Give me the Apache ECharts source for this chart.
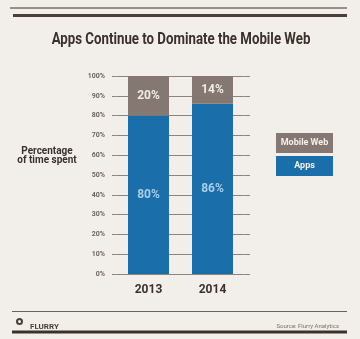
<!DOCTYPE html>
<html><head><meta charset="utf-8">
<script src="https://cdn.jsdelivr.net/npm/echarts@6/dist/echarts.min.js"></script>
<style>html,body{margin:0;padding:0;background:#f2efeb;}#c{width:360px;height:339px;}</style>
</head><body><div id="c"></div>
<script>
var categories = ['2013', '2014'];
var apps = [80, 86];
var mobileWeb = [20, 14];
var yTicks = [0, 10, 20, 30, 40, 50, 60, 70, 80, 90, 100];

var F = 'Roboto, sans-serif';
var chart = echarts.init(document.getElementById('c'));
chart.setOption({
  backgroundColor: '#f2efeb',
  animation: false,
  title: [
    {text: 'FLURRY', left: 25, top: 318,
     textStyle: {fontFamily: F, fontWeight: 'bold', fontSize: 8, color: '#4a403a'}},
    {text: 'Source: Flurry Analytics', right: 16, top: 318,
     textStyle: {fontFamily: F, fontWeight: 'normal', fontSize: 6, color: '#7a716b'}}
  ],
  graphic: [
    {type: 'text', x: 181, y: 31, scaleX: 0.78,
     style: {text: 'Apps Continue to Dominate the Mobile Web', align: 'center', verticalAlign: 'top',
             font: 'bold 17px Roboto, sans-serif', fill: '#3b302b'}},
    {type: 'text', x: 47, y: 147,
     style: {text: 'Percentage\nof time spent', align: 'center', verticalAlign: 'top', lineHeight: 9,
             font: 'bold 10px Roboto, sans-serif', fill: '#3b302b'}},
    {type: 'line', shape: {x1: 10, y1: 8, x2: 347, y2: 8}, style: {stroke: '#3b302b', lineWidth: 1}},
    {type: 'line', shape: {x1: 13, y1: 15.5, x2: 347, y2: 15.5}, style: {stroke: '#4a3f39', lineWidth: 3}},
    {type: 'line', shape: {x1: 12, y1: 311.5, x2: 347, y2: 311.5}, style: {stroke: '#6b615b', lineWidth: 1}},
    {type: 'line', shape: {x1: 12, y1: 332, x2: 347, y2: 332}, style: {stroke: '#3b302b', lineWidth: 3}},
    {type: 'circle', shape: {cx: 19.5, cy: 321.5, r: 3.5}, style: {fill: '#4a403a'}},
    {type: 'circle', shape: {cx: 19.5, cy: 321.5, r: 1.5}, style: {fill: '#f2efeb'}}
  ],
  legend: {
    orient: 'vertical', left: 266, top: 128, itemGap: 3, itemWidth: 0, itemHeight: 0,
    selectedMode: false,
    data: ['Mobile Web', 'Apps'],
    formatter: function (n) { return n === 'Apps' ? '{ap|' + n + '}' : '{mw|' + n + '}'; },
    textStyle: {
      rich: {
        mw: {backgroundColor: '#857872', color: '#f4efea', width: 57, height: 20, align: 'center',
             fontFamily: F, fontWeight: 'bold', fontSize: 9},
        ap: {backgroundColor: '#1a6eaa', color: '#f4efea', width: 57, height: 20, align: 'center',
             fontFamily: F, fontWeight: 'bold', fontSize: 9}
      }
    }
  },
  grid: {left: 116.5, right: 115.5, top: 76, bottom: 65},
  xAxis: {
    type: 'category', data: categories,
    axisLine: {show: false}, axisTick: {show: false},
    axisLabel: {margin: 10, fontFamily: F, fontWeight: 'bold', fontSize: 12, color: '#3b302b'}
  },
  yAxis: [
    {type: 'value', min: 0, max: 100, interval: 10,
     axisLine: {show: false},
     axisTick: {show: true, length: 4.5, lineStyle: {color: '#8c8480'}},
     splitLine: {lineStyle: {color: '#8c8480', width: 1}},
     axisLabel: {margin: 11.5, fontFamily: F, fontWeight: 'bold', fontSize: 7, color: '#6e635c',
       formatter: function (v) { return yTicks.indexOf(v) >= 0 ? v + '%' : ''; }}},
    {type: 'value', min: 0, max: 100, interval: 10, position: 'right',
     axisLine: {show: false},
     axisTick: {show: true, length: 5.5, lineStyle: {color: '#8c8480'}},
     splitLine: {show: false}, axisLabel: {show: false}}
  ],
  series: [
    {name: 'Apps', type: 'bar', stack: 's', data: apps, barWidth: 41,
     itemStyle: {color: '#1a6eaa'},
     label: {show: true, position: 'inside', formatter: '{c}%', fontFamily: F, fontWeight: 'bold',
             fontSize: 12, color: '#a9cde6'}},
    {name: 'Mobile Web', type: 'bar', stack: 's', data: mobileWeb, barWidth: 41,
     itemStyle: {color: '#857872'},
     label: {show: true, position: 'inside', formatter: '{c}%', fontFamily: F, fontWeight: 'bold',
             fontSize: 12, color: '#f1ece7'}}
  ]
});
</script></body></html>
